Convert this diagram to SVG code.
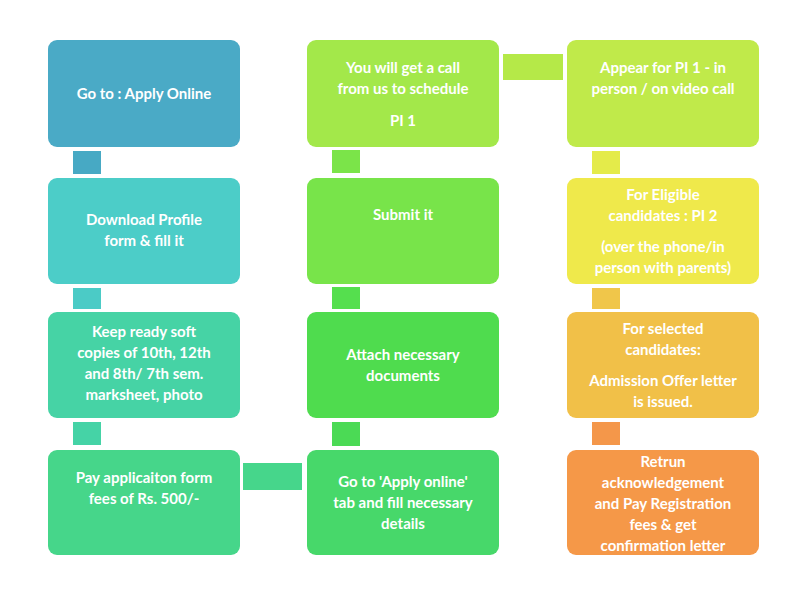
<svg xmlns="http://www.w3.org/2000/svg" width="800" height="600" viewBox="0 0 800 600">
<style>
.b{stroke:none}
text{font-family:Lato,"Liberation Sans",sans-serif;font-weight:bold;font-size:15px;fill:#fff;text-anchor:middle}
</style>
<rect width="800" height="600" fill="#fff"/>
<g id="connectors">
<rect x="73" y="151" width="28" height="23" fill="#47a9c4"/>
<rect x="73" y="288" width="28" height="21" fill="#4bcbc6"/>
<rect x="73" y="422" width="28" height="23" fill="#45d3a6"/>
<rect x="243" y="463" width="59" height="27" fill="#46d68b"/>
<rect x="332" y="422" width="28" height="24" fill="#4bda55"/>
<rect x="332" y="287" width="28" height="22" fill="#55df4e"/>
<rect x="332" y="150" width="28" height="23" fill="#7be449"/>
<rect x="503" y="54" width="60" height="26" fill="#b5e948"/>
<rect x="592" y="151" width="28" height="23" fill="#e4eb4a"/>
<rect x="592" y="288" width="28" height="21" fill="#f0c64a"/>
<rect x="592" y="422" width="28" height="23" fill="#f4974a"/>
</g>
<g id="n1"><rect x="48" y="40" width="192" height="107" rx="9" fill="#4aaac6"/><text x="144" y="99">Go to : Apply Online</text></g>
<g id="n2"><rect x="48" y="178" width="192" height="106" rx="9" fill="#4ccdc8"/><text x="144" y="225">Download Profile</text><text x="144" y="246">form &amp; fill it</text></g>
<g id="n3"><rect x="48" y="312" width="192" height="106" rx="9" fill="#46d3a5"/><text x="144" y="337">Keep ready soft</text><text x="144" y="358">copies of 10th, 12th</text><text x="144" y="379">and 8th/ 7th sem.</text><text x="144" y="400">marksheet, photo</text></g>
<g id="n4"><rect x="48" y="450" width="192" height="105" rx="9" fill="#46d68a"/><text x="144" y="483">Pay applicaiton form</text><text x="144" y="504">fees of Rs. 500/-</text></g>
<g id="n5"><rect x="307" y="40" width="192" height="107" rx="9" fill="#a3e84a"/><text x="403" y="73">You will  get a call</text><text x="403" y="94">from us to schedule</text><text x="403" y="126">PI 1</text></g>
<g id="n6"><rect x="307" y="178" width="192" height="106" rx="9" fill="#78e44a"/><text x="403" y="220">Submit it</text></g>
<g id="n7"><rect x="307" y="312" width="192" height="106" rx="9" fill="#4fdc4e"/><text x="403" y="360">Attach necessary</text><text x="403" y="381">documents</text></g>
<g id="n8"><rect x="307" y="450" width="192" height="105" rx="9" fill="#47d86a"/><text x="403" y="487">Go to 'Apply online'</text><text x="403" y="508">tab and fill necessary</text><text x="403" y="529">details</text></g>
<g id="n9"><rect x="567" y="40" width="192" height="107" rx="9" fill="#c0ea4a"/><text x="663" y="73">Appear for PI 1 - in</text><text x="663" y="94">person / on video call</text></g>
<g id="n10"><rect x="567" y="178" width="192" height="106" rx="9" fill="#efe94b"/><text x="663" y="200">For Eligible</text><text x="663" y="221">candidates : PI 2</text><text x="663" y="252">(over the phone/in</text><text x="663" y="273">person with parents)</text></g>
<g id="n11"><rect x="567" y="312" width="192" height="106" rx="9" fill="#f1c048"/><text x="663" y="334">For selected</text><text x="663" y="355">candidates:</text><text x="663" y="386">Admission Offer letter</text><text x="663" y="407">is issued.</text></g>
<g id="n12"><rect x="567" y="450" width="192" height="105" rx="9" fill="#f59848"/><text x="663" y="467">Retrun</text><text x="663" y="488">acknowledgement</text><text x="663" y="509">and Pay Registration</text><text x="663" y="530">fees &amp; get</text><text x="663" y="551">confirmation letter</text></g>
</svg>
